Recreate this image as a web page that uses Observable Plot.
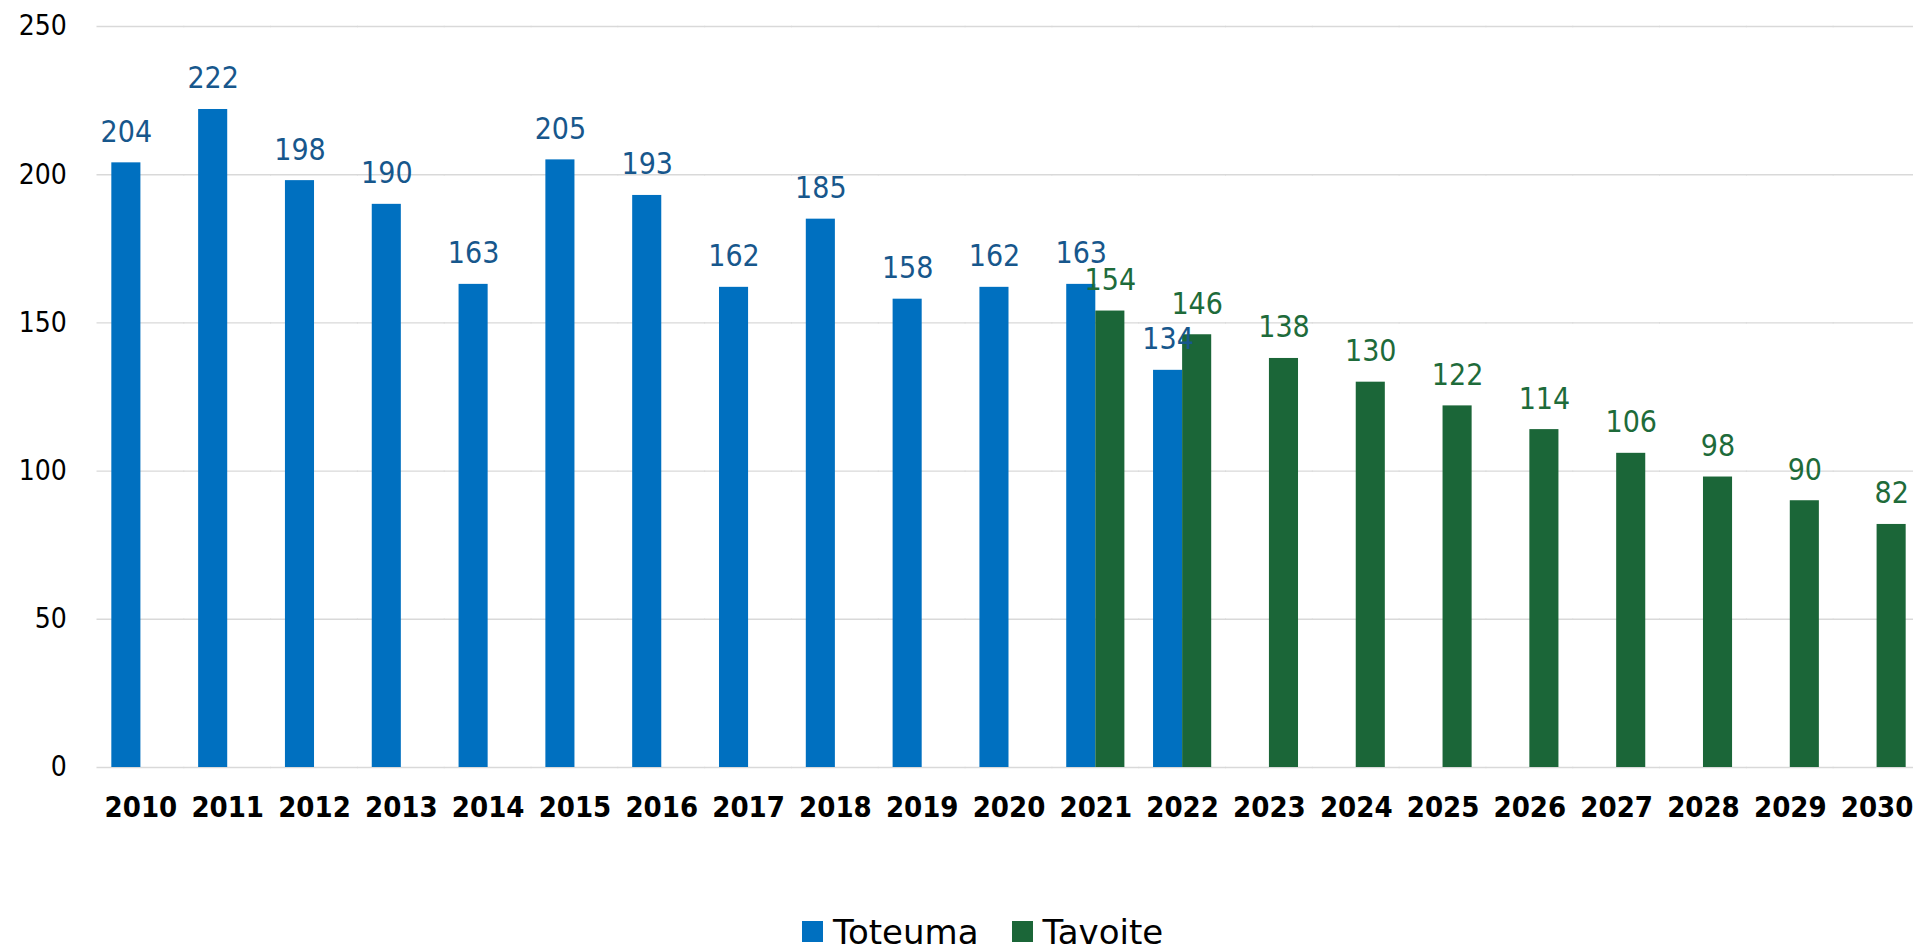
<!DOCTYPE html>
<html>
<head>
<meta charset="utf-8">
<script src="https://cdn.jsdelivr.net/npm/d3@7"></script>
<script src="https://cdn.jsdelivr.net/npm/@observablehq/plot@0.6"></script>
<style>
  html, body { margin: 0; padding: 0; background: #fff; overflow: hidden; }
  body { font-family: "DejaVu Sans", Verdana, sans-serif; width: 1913px; height: 949px; }
  #chart svg { display: block; max-width: none !important; }
  #legend { height: 53px; display: flex; align-items: center; padding-left: 802px; font-size: 34px; color: #000; }
  .item { display: flex; align-items: center; margin-right: 33px; }
  .sw { width: 21px; height: 21px; margin-right: 10px; }
</style>
</head>
<body>
<div id="chart"></div>
<div id="legend"></div>
<script>
const years = [2010, 2011, 2012, 2013, 2014, 2015, 2016, 2017, 2018, 2019, 2020, 2021, 2022, 2023, 2024, 2025, 2026, 2027, 2028, 2029, 2030];
const toteuma = [204, 222, 198, 190, 163, 205, 193, 162, 185, 158, 162, 163, 134, null, null, null, null, null, null, null, null];
const tavoite = [null, null, null, null, null, null, null, null, null, null, null, 154, 146, 138, 130, 122, 114, 106, 98, 90, 82];
const series = ["Toteuma", "Tavoite"];
const barColors = ["#0070C0", "#1B6638"];
const labelColors = ["#17578C", "#1E6B3A"];
const yTicks = [0, 50, 100, 150, 200, 250];

const rows = [];
years.forEach((yr, i) => {
  if (toteuma[i] != null) rows.push({year: yr, series: "Toteuma", value: toteuma[i]});
  if (tavoite[i] != null) rows.push({year: yr, series: "Tavoite", value: tavoite[i]});
});

const W = 1920, mL = 97, mR = 0, pIn = 0.33, pOut = 0.165;
const step = (W - mL - mR) / (years.length - pIn + 2 * pOut);
const halfGap = step * pIn / 2;
const font = "'DejaVu Sans Condensed', 'DejaVu Sans', Verdana, sans-serif";

const chart = Plot.plot({
  width: W,
  height: 905,
  marginLeft: mL,
  marginRight: mR,
  marginTop: 26,
  marginBottom: 138,
  style: {fontFamily: font, background: "#fff"},
  fx: {domain: years, paddingInner: pIn, paddingOuter: pOut, round: false, label: null},
  x: {domain: series, padding: 0, round: false, axis: null},
  y: {domain: [0, 250], label: null},
  color: {domain: series, range: barColors},
  marks: [
    Plot.ruleY(yTicks, {stroke: "#d9d9d9", strokeWidth: 1.4, insetLeft: -halfGap - 0.5, insetRight: -halfGap - 0.5}),
    Plot.barY(rows, {fx: "year", x: "series", y: "value", fill: "series"}),
    Plot.text(rows.filter(d => d.series === "Toteuma"), {fx: "year", x: "series", y: "value", text: d => String(d.value), fill: labelColors[0], lineAnchor: "bottom", dy: -21, fontSize: 30}),
    Plot.text(rows.filter(d => d.series === "Tavoite"), {fx: "year", x: "series", y: "value", text: d => String(d.value), fill: labelColors[1], lineAnchor: "bottom", dy: -21, fontSize: 30}),
    Plot.axisY(yTicks, {tickSize: 0, tickPadding: 45, fontSize: 28, fill: "#000", label: null}),
    Plot.axisFx({anchor: "bottom", tickSize: 0, tickPadding: 29, fontSize: 29, fontWeight: "bold", fill: "#000", label: null, tickFormat: d => String(d)})
  ]
});
document.getElementById("chart").appendChild(chart);

const legend = document.getElementById("legend");
series.forEach((s, i) => {
  const item = document.createElement("div");
  item.className = "item";
  const sw = document.createElement("div");
  sw.className = "sw";
  sw.style.background = barColors[i];
  const t = document.createElement("span");
  t.textContent = s;
  item.appendChild(sw);
  item.appendChild(t);
  legend.appendChild(item);
});
</script>
</body>
</html>
